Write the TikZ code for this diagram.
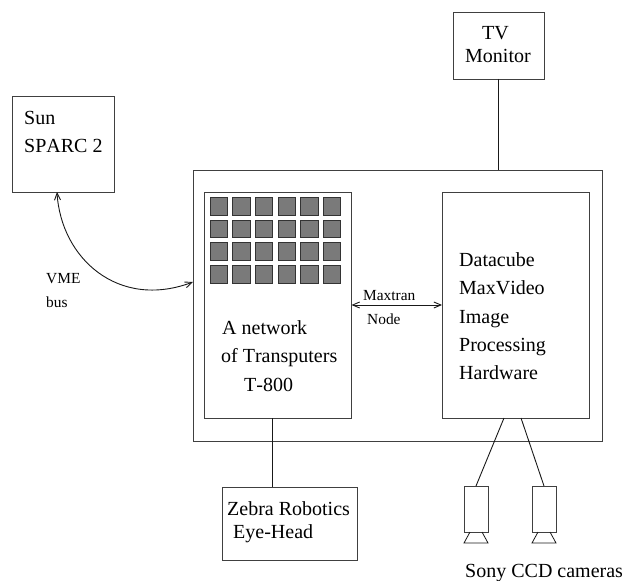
\documentclass[tikz,border=0pt]{standalone}
\usepackage{fontspec}
\setmainfont[Kerning=Off]{Liberation Serif}
\usetikzlibrary{arrows.meta,calc}
\tikzset{
 box/.style={draw=black!75,line width=0.9pt,rectangle,inner sep=0pt,outer sep=0pt,anchor=north west},
 cell/.style={draw=black!80,line width=1pt,fill=black!52,rectangle,inner sep=0pt,outer sep=0pt,minimum width=17.5pt,minimum height=17.5pt},
 big/.style={inner sep=0pt,anchor=base west,font=\fontsize{20}{20}\selectfont},
 small/.style={inner sep=0pt,anchor=base west,font=\fontsize{15.4}{15.4}\selectfont},
 wire/.style={draw=black!90,line width=0.9pt},
 bothtips/.style={{Straight Barb[length=7pt,width=6pt]}-{Straight Barb[length=7pt,width=6pt]}},
}
\begin{document}
\begin{tikzpicture}[x=1pt,y=-1pt]
\useasboundingbox (0,0) rectangle (628,580);
\node[box,minimum width=102pt,minimum height=96pt] (sun) at (12,96) {};
\node[box,minimum width=409pt,minimum height=271pt] (outer) at (193,170) {};
\node[box,minimum width=147.5pt,minimum height=226pt] (net) at (204,192) {};
\node[box,minimum width=147pt,minimum height=226pt] (cube) at (442,192) {};
\node[box,minimum width=91pt,minimum height=67pt] (tv) at (453,12) {};
\node[box,minimum width=135pt,minimum height=73pt] (zebra) at (222,487) {};
\node[box,minimum width=24pt,minimum height=46pt] (cam1) at (464,486) {};
\node[box,minimum width=24pt,minimum height=46pt] (cam2) at (532,486) {};
\foreach \r in {0,...,3}{\foreach \c in {0,...,5}{
  \node[cell] (c\r\c) at ({219+22.6*\c},{206.5+22.6*\r}) {};
}}
\draw[wire,line width=0.8pt] (cam1.south west) ++(6,0) -- ++(-6,11) -- ++(24,0) -- ++(-6,-11);
\draw[wire,line width=0.8pt] (cam2.south west) ++(6,0) -- ++(-6,11) -- ++(24,0) -- ++(-6,-11);
\path (sun.south west) ++(45,0) coordinate (sunend);
\path (outer.north west) ++(0,112) coordinate (outerend);
\path (net.south) ++(-5.7,0) coordinate (netend);
\path (cube.south) ++(-11.5,0) coordinate (cubea);
\path (cube.south) ++(5.5,0) coordinate (cubeb);
\draw[wire,bothtips] (sunend) .. controls (61,258) and (118,310) .. (outerend);
\draw[wire,bothtips] (net.east) -- (cube.west);
\draw[wire] (tv.south) -- (tv.south |- outer.north);
\draw[wire] (netend) -- (netend |- zebra.north);
\draw[wire] (cubea) -- (cam1.north);
\draw[wire] (cubeb) -- (cam2.north);
\node[big] (t1) at (24,125) {Sun};
\node[big] (t2) at (24,153) {SPARC 2};
\node[big] (t3) at (482,40) {TV};
\node[big] (t4) at (465,63) {Monitor};
\node[small] (t5) at (46,283) {VME};
\node[small] (t6) at (46,307) {bus};
\node[small] (t7) at (363,300) {Maxtran};
\node[small] (t8) at (367,324) {Node};
\node[big] (t9) at (222,334) {A network};
\node[big] (t10) at (221,362) {of Transputers};
\node[big] (t11) at (244,391) {T-800};
\node[big] (t12) at (459,266) {Datacube};
\node[big] (t13) at (459,294) {MaxVideo};
\node[big] (t14) at (459,323) {Image};
\node[big] (t15) at (459,351) {Processing};
\node[big] (t16) at (459,379) {Hardware};
\node[big] (t17) at (227,515) {Zebra Robotics};
\node[big] (t18) at (233,538) {Eye-Head};
\node[big] (t19) at (465,577) {Sony CCD cameras};
\end{tikzpicture}
\end{document}
